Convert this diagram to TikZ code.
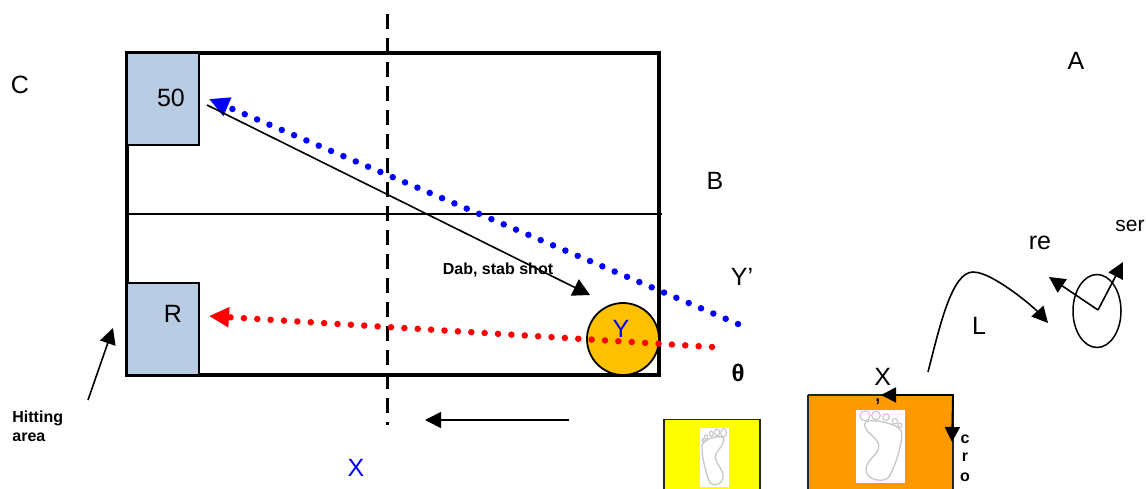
\documentclass[tikz,border=0pt]{standalone}
\usepackage{fontspec}
\setmainfont{Liberation Sans}
\usetikzlibrary{arrows.meta,shapes.geometric}
\definecolor{hitblue}{HTML}{B8CCE4}
\definecolor{ballgold}{HTML}{FFC000}
\definecolor{mataorange}{HTML}{FF9900}
\definecolor{matyellow}{HTML}{FFFF00}
\definecolor{labblue}{HTML}{0000FF}
\definecolor{dotred}{HTML}{FF0000}
\tikzset{
	lab/.style={inner sep=0pt,font=\fontsize{25}{25}\selectfont},
	boldlab/.style={inner sep=0pt,font=\fontsize{16}{19}\bfseries\selectfont,align=left},
	hitbox/.style={draw,fill=hitblue,line width=1.8pt,minimum width=72pt,minimum height=92pt,inner sep=0pt},
	matbox/.style={draw=black!85,line width=1.8pt,inner sep=0pt},
	footbox/.style={fill=white,inner sep=0pt},
	tipline/.style={line width=1.6pt,-{Triangle[length=16pt,width=16pt]}},
	balldots/.style={line width=6.5pt,line cap=round,dash pattern=on 0pt off 13.4pt},
	footprint/.pic={
		\foreach \tx/\ty/\tr in {-15.5/-30.7/5,-4.5/-31/4.3,5.5/-29.3/3.3,14.5/-25.3/2.7,19.5/-21.3/2}
			\draw[black!22,line width=1.1pt] (\tx,\ty) circle (\tr);
		\draw[black!22,line width=1.3pt] (-16,-22) .. controls (-15,-12) and (1,-8) .. (-2,2)
			.. controls (-4,10) and (-17,15) .. (-14,26) .. controls (-12,34) and (3,36) .. (8,31)
			.. controls (14,22) and (23,-5) .. (21,-15) .. controls (18,-24) and (-17,-30) .. (-16,-22);
	}
}
\begin{document}
\begin{tikzpicture}[x=1pt,y=-1pt,line join=miter,thick]
	\clip (0,0) rectangle (1146,488);
	% court
	\draw[line width=3.4pt] (127,53) rectangle (659,375);
	\coordinate (midl) at (125,214);
	\coordinate (midr) at (662,214);
	\draw[line width=1.5pt] (midl)--(midr);
	\coordinate (xtop) at (387,14);
	\coordinate (xbot) at (387,425);
	\draw[line width=3pt,dash pattern=on 15pt off 9pt] (xtop)--(xbot);
	\node[hitbox] (fiftybox) at (163,99) {};
	\node[hitbox] (rbox) at (163,329) {};
	\node[lab] (fifty) at (171,98) {50};
	\node[lab] (rlab) at (173,314) {R};
	% ball
	\node[draw,circle,fill=ballgold,line width=1.8pt,minimum size=72pt,inner sep=0pt] (ball) at (623,339) {};
	\node[lab,labblue] (y) at (621,329) {Y};
	% shots
	\coordinate (bstart) at (738,324);
	\coordinate (btip) at (209,99);
	\coordinate (rstart) at (712,347);
	\coordinate (rtip) at (209,316);
	\coordinate (dstart) at (207,105);
	\coordinate (dtip) at (590,295);
	\draw[balldots,labblue,-{Triangle[length=20pt,width=19pt,sep=0pt]}] (bstart)--(btip);
	\draw[balldots,dotred,-{Triangle[length=20pt,width=19pt,sep=0pt]}] (rstart)--(rtip);
	\draw[line width=1.6pt,-{Triangle[length=17pt,width=18pt]}] (dstart)--(dtip);
	\node[boldlab] (dab) at (498,270) {Dab, stab shot};
	% hitting area
	\node[boldlab] (hit) [anchor=north west] at (12,410) {Hitting\\area};
	\coordinate (hstart) at (88,400);
	\coordinate (htip) at (113,328);
	\draw[tipline] (hstart)--(htip);
	\coordinate (mstart) at (569,420);
	\coordinate (mtip) at (425,420);
	\draw[tipline] (mstart)--(mtip);
	% letters
	\foreach \nx/\ny/\nname/\ntext in {20/85/c/C,1076/61/a/A,715/181/b/B,742/277/yp/Y’,979/326/l/L,1040/243/re/re}
		\node[lab] (\nname) at (\nx,\ny) {\ntext};
	\node[lab,labblue] (x) at (356,468) {X};
	\node[lab,font=\fontsize{21}{21}\selectfont] (ser) at (1130,226) {ser};
	\node[lab,font=\fontsize{24}{24}\bfseries\selectfont] (theta) at (738,373) {θ};
	% mats
	\node[matbox,fill=matyellow,minimum width=96pt,minimum height=100pt] (ymat) at (712,469.5) {};
	\node[footbox,minimum width=29pt,minimum height=59pt] (yfoot) at (714.5,457.5) {};
	\pic[xscale=-0.59,yscale=0.81] at (714.5,457.5) {footprint};
	\node[fill=mataorange,inner sep=0pt,minimum width=145pt,minimum height=120pt] (omat) at (880.5,455) {};
	\coordinate (onw) at (808,395);
	\coordinate (ose) at (953,395);
	\coordinate (osw) at (808,500);
	\coordinate (oend) at (953,500);
	\draw[matbox] (onw)--(ose)--(oend);
	\draw[matbox] (onw)--(osw);
	\coordinate (otip) at (881,395);
	\coordinate (rtipb) at (952,442);
	\draw[-{Triangle[length=15pt,width=15pt]},line width=1.8pt] (ose)--(otip);
	\draw[-{Triangle[length=15pt,width=15pt]},line width=1.8pt] (ose)--(rtipb);
	\node[footbox,minimum width=49pt,minimum height=73pt] (ofoot) at (880.5,446.5) {};
	\pic at (880.5,446.5) {footprint};
	\node[lab,font=\fontsize{25}{16}\selectfont,align=left,anchor=north west] (xp) at (874,368) {X\\,};
	\begin{scope}
		\clip (955,430) rectangle (980,481);
		\foreach \ny/\nname/\ntext in {439/cc/c,457/cr/r,477.5/co/o}
			\node[boldlab] (\nname) at (965,\ny) {\ntext};
	\end{scope}
	% runner
	\coordinate (lstart) at (928,372);
	\coordinate (lmid) at (1023,299);
	\coordinate (ltip) at (1048,323);
	\draw[line width=1.6pt,-{Triangle[length=16pt,width=16pt]}] (lstart) .. controls (940,325) and (952,272) .. (973,272)
		.. controls (985,272) and (1005,285) .. (lmid) .. controls (1032,306) and (1040,314) .. (ltip);
	\node[draw,ellipse,line width=1.5pt,minimum width=48pt,minimum height=73pt,inner sep=0pt] (body) at (1097,311) {};
	\coordinate (hub) at (1098,310);
	\coordinate (retip) at (1049,277);
	\coordinate (sertip) at (1123,262);
	\draw[tipline] (hub)--(retip);
	\draw[tipline] (hub)--(sertip);
\end{tikzpicture}
\end{document}
